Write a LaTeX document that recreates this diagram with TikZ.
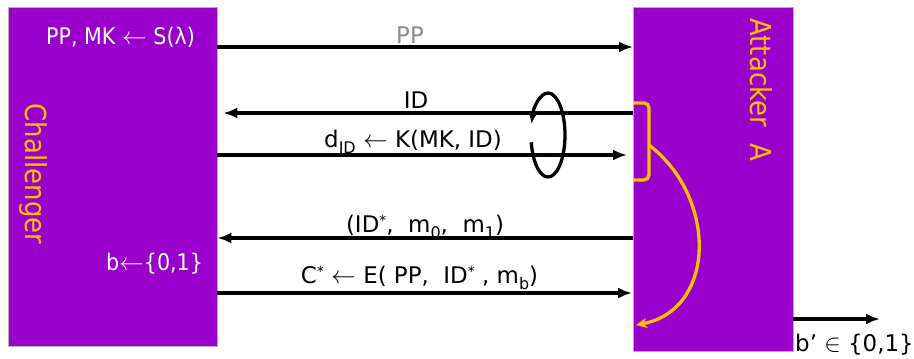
\documentclass[tikz,border=0pt]{standalone}
\usepackage{fontspec}
\setmainfont{DejaVu Sans}
\newfontfamily\narrowfont[FakeStretch=0.9]{DejaVu Sans}
\usetikzlibrary{arrows.meta}

\definecolor{boxpurple}{RGB}{153,0,204}
\definecolor{tagyellow}{RGB}{255,192,0}
\definecolor{msggray}{RGB}{140,140,140}

% low subscript / high star as in the slide text
\newcommand{\lsub}[1]{\raisebox{-6bp}{\fontsize{16}{16}\selectfont #1}}
\newcommand{\hstar}{\raisebox{7bp}{\fontsize{14}{14}\selectfont *}}

\begin{document}
\begin{tikzpicture}[x=1bp, y=-1bp,
  party/.style={draw=gray!60, fill=boxpurple, inner sep=0pt, anchor=north west},
  msg/.style={line width=3.3bp, -{Latex[length=14bp, width=11bp]}},
  say/.style={font=\fontsize{23}{25}\selectfont, inner sep=0pt, anchor=base},
  note/.style={font=\narrowfont\fontsize{23}{25}\selectfont, text=white, inner sep=0pt, anchor=base},
  who/.style={font=\narrowfont\fontsize{29}{31}\selectfont, text=tagyellow, rotate=-90, inner sep=0pt, anchor=base},
  tag/.style={draw=tagyellow, line width=3.3bp}]
\useasboundingbox (0,0) rectangle (914,358);

\node (chal) [party, minimum width=209bp, minimum height=339bp] at (8,7) {};
\node (att) [party, minimum width=160bp, minimum height=344bp] at (633,7) {};
\node (chalname) [who] at (25,174) {Challenger};
\node (attname) [who] at (750,90) {Attacker\ \ A};

%Local steps:
\node (setup) [note] at (120.5,44) {PP, MK $\leftarrow$ S(λ)};
\node (coin) [note] at (154.5,270) {b$\leftarrow$\{0,1\}};

%Messages:
\draw[msg] (chal.east |- 0,47) -- (att.west |- 0,47);
\draw[msg, shorten >=6bp] (att.west |- 0,113) -- (chal.east |- 0,113);
\draw[msg, shorten >=6bp] (chal.east |- 0,155) -- (att.west |- 0,155);
\draw[msg] (att.west |- 0,238) -- (chal.east |- 0,238);
\draw[msg, shorten >=1bp] (chal.east |- 0,293) -- (att.west |- 0,293);
\coordinate (out) at (880,319);
\draw[msg] (att.east |- out) -- (out);

\node (pp) [say, text=msggray] at (410,43) {PP};
\node (id) [say] at (416,108) {ID};
\node (key) [say] at (413,147) {d\lsub{ID} $\leftarrow$ K(MK, ID)};
\node (chall) [say] at (425,232) {(ID\hstar,\ \ m\lsub{0},\ \ m\lsub{1})};
\node (ct) [say] at (419.5,283) {C\hstar\ $\leftarrow$ E( PP,\ \ ID\hstar\ , m\lsub{b})};
\node (guess) [say] at (854.5,351) {b’ $\in$ \{0,1\}};

%Repeated queries:
\coordinate (loopc) at (548,135);
\draw[line width=3.3bp, -{Latex[length=12bp, width=10bp]}]
  (loopc) ++(170:17 and 42) arc[start angle=170, end angle=-165, x radius=17, y radius=42];

\draw[tag, rounded corners=5bp] (att.west |- 0,103) -| (649,141.5) |- (att.west |- 0,180);
\draw[tag, -{Stealth[length=11bp, width=10bp]}]
  (649,145) .. controls (718,198) and (716,310) .. (636,325);

\end{tikzpicture}
\end{document}
